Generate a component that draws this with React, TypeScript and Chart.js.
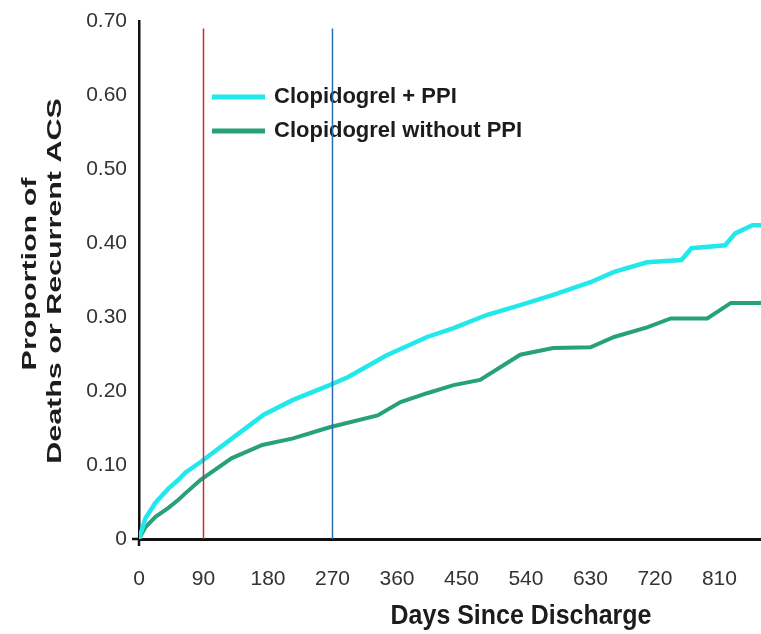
import React, { useEffect, useRef } from "react";
import { Chart, registerables } from "chart.js";

Chart.register(...registerables);

// ---- data ----
const seriesLabels = ["Clopidogrel + PPI", "Clopidogrel without PPI"];
const ppiDays = [0, 9, 23, 41, 55, 65, 86, 130, 174, 215, 266, 292, 345, 402, 439, 486, 532, 578, 630, 663, 709, 757, 771, 818, 832, 856, 868];
const ppiValues = [0, 0.028, 0.049, 0.068, 0.08, 0.09, 0.104, 0.136, 0.168, 0.188, 0.208, 0.219, 0.248, 0.273, 0.285, 0.303, 0.316, 0.33, 0.347, 0.361, 0.374, 0.377, 0.393, 0.397, 0.413, 0.424, 0.424];
const noPpiDays = [0, 9, 23, 41, 55, 65, 86, 129, 172, 215, 266, 333, 365, 402, 439, 476, 532, 578, 630, 663, 709, 742, 793, 826, 868];
const noPpiValues = [0, 0.016, 0.03, 0.042, 0.053, 0.062, 0.08, 0.109, 0.127, 0.136, 0.151, 0.167, 0.185, 0.197, 0.208, 0.215, 0.249, 0.258, 0.259, 0.273, 0.286, 0.298, 0.298, 0.319, 0.319];
const refLineDays = [90, 270];
const refLineTop = 0.69;
const xTicks = [0, 90, 180, 270, 360, 450, 540, 630, 720, 810];
const yTicks = [0, 0.1, 0.2, 0.3, 0.4, 0.5, 0.6, 0.7];
const xMax = 868;
const yTitleLines = ["Proportion of", "Deaths or Recurrent ACS"];
const xTitle = "Days Since Discharge";

const CYAN = "#22e8ec";
const GREEN = "#27a07c";
const RED = "#c4303a";
const BLUE = "#2a6fb3";

const toPoints = (xs: number[], ys: number[]) => xs.map((x, i) => ({ x, y: ys[i] }));

const decorPlugin = {
  id: "decor",
  beforeDatasetsDraw(chart: any) {
    const { ctx, chartArea } = chart;
    ctx.save();
    // legend inside plot
    [0, 1].forEach((di, i) => {
      const ds = chart.data.datasets[di];
      const y = chartArea.top + 76 + i * 34;
      ctx.strokeStyle = ds.borderColor;
      ctx.lineWidth = 5;
      ctx.lineCap = "butt";
      ctx.beginPath();
      ctx.moveTo(chartArea.left + 73, y);
      ctx.lineTo(chartArea.left + 126, y);
      ctx.stroke();
      ctx.fillStyle = "#1c1c1c";
      ctx.font = "bold 22px 'Liberation Sans', Arial, sans-serif";
      ctx.textBaseline = "middle";
      ctx.textAlign = "left";
      ctx.fillText(ds.label, chartArea.left + 135, y);
    });
    // small tick cross at the origin
    const x0 = chart.scales.x.getPixelForValue(0);
    const y0 = chart.scales.y.getPixelForValue(0);
    ctx.strokeStyle = "#111";
    ctx.lineWidth = 2.5;
    ctx.beginPath();
    ctx.moveTo(x0 - 7, y0);
    ctx.lineTo(x0, y0);
    ctx.moveTo(x0, y0);
    ctx.lineTo(x0, y0 + 7);
    ctx.stroke();
    ctx.restore();
  },
  afterDraw(chart: any) {
    const { ctx, chartArea } = chart;
    ctx.save();
    ctx.fillStyle = "#1c1c1c";
    ctx.font = "bold 21px 'Liberation Sans', Arial, sans-serif";
    ctx.textAlign = "center";
    ctx.textBaseline = "middle";
    const cy = (chartArea.top + chartArea.bottom) / 2;
    const xs = [30, 55];
    const offs = [-6, 1];
    yTitleLines.forEach((line, i) => {
      ctx.save();
      ctx.translate(xs[i], cy + offs[i]);
      ctx.rotate(-Math.PI / 2);
      ctx.scale(1.45, 1);
      ctx.fillText(line, 0, 0);
      ctx.restore();
    });
    ctx.save();
    ctx.font = "bold 24px 'Liberation Sans', Arial, sans-serif";
    ctx.textBaseline = "alphabetic";
    ctx.translate(chartArea.left + 382, chartArea.bottom + 85);
    ctx.scale(1.04, 1.18);
    ctx.fillText(xTitle, 0, 0);
    ctx.restore();
    ctx.restore();
  },
};

export default function App() {
  const ref = useRef<HTMLCanvasElement | null>(null);
  useEffect(() => {
    if (!ref.current) return;
    const chart = new Chart(ref.current, {
      type: "line",
      data: {
        datasets: [
          {
            label: seriesLabels[0],
            data: toPoints(ppiDays, ppiValues),
            borderColor: CYAN,
            backgroundColor: CYAN,
            borderWidth: 4.5,
            pointRadius: 0,
            tension: 0,
            order: 1,
          },
          {
            label: seriesLabels[1],
            data: toPoints(noPpiDays, noPpiValues),
            borderColor: GREEN,
            backgroundColor: GREEN,
            borderWidth: 4,
            pointRadius: 0,
            tension: 0,
            order: 2,
          },
          ...refLineDays.map((d, i) => ({
            label: "ref" + d,
            data: [
              { x: d, y: 0 },
              { x: d, y: refLineTop },
            ],
            borderColor: i === 0 ? RED : BLUE,
            borderWidth: 1.5,
            pointRadius: 0,
            order: 0,
          })),
        ],
      },
      options: {
        animation: false,
        responsive: true,
        maintainAspectRatio: false,
        layout: { padding: { left: 0, right: 0, top: 21, bottom: 0 } },
        plugins: {
          legend: { display: false },
          tooltip: { enabled: false },
        },
        scales: {
          x: {
            type: "linear",
            min: 0,
            max: xMax,
            grid: { display: false },
            border: { display: true, color: "#111", width: 3 },
            afterBuildTicks: (s: any) => {
              s.ticks = xTicks.map((v) => ({ value: v }));
            },
            afterFit: (s: any) => {
              s.height = 95;
            },
            ticks: {
              includeBounds: false,
              padding: 20,
              color: "#333",
              maxRotation: 0,
              autoSkip: false,
              font: { size: 21, family: "'Liberation Sans', Arial, sans-serif" },
            },
          },
          y: {
            type: "linear",
            min: 0,
            max: 0.7,
            grid: { display: false },
            border: { display: true, color: "#111", width: 2.5 },
            afterBuildTicks: (s: any) => {
              s.ticks = yTicks.map((v) => ({ value: v }));
            },
            afterFit: (s: any) => {
              s.width = 139;
            },
            ticks: {
              padding: 4,
              color: "#333",
              font: { size: 21, family: "'Liberation Sans', Arial, sans-serif" },
              callback: (v: any) => (Number(v) === 0 ? "0" : Number(v).toFixed(2)),
            },
          },
        },
      },
      plugins: [decorPlugin],
    });
    return () => chart.destroy();
  }, []);
  return (
    <div style={{ position: "fixed", left: 0, top: 0, width: 761, height: 634, background: "#fff" }}>
      <canvas ref={ref} />
    </div>
  );
}
